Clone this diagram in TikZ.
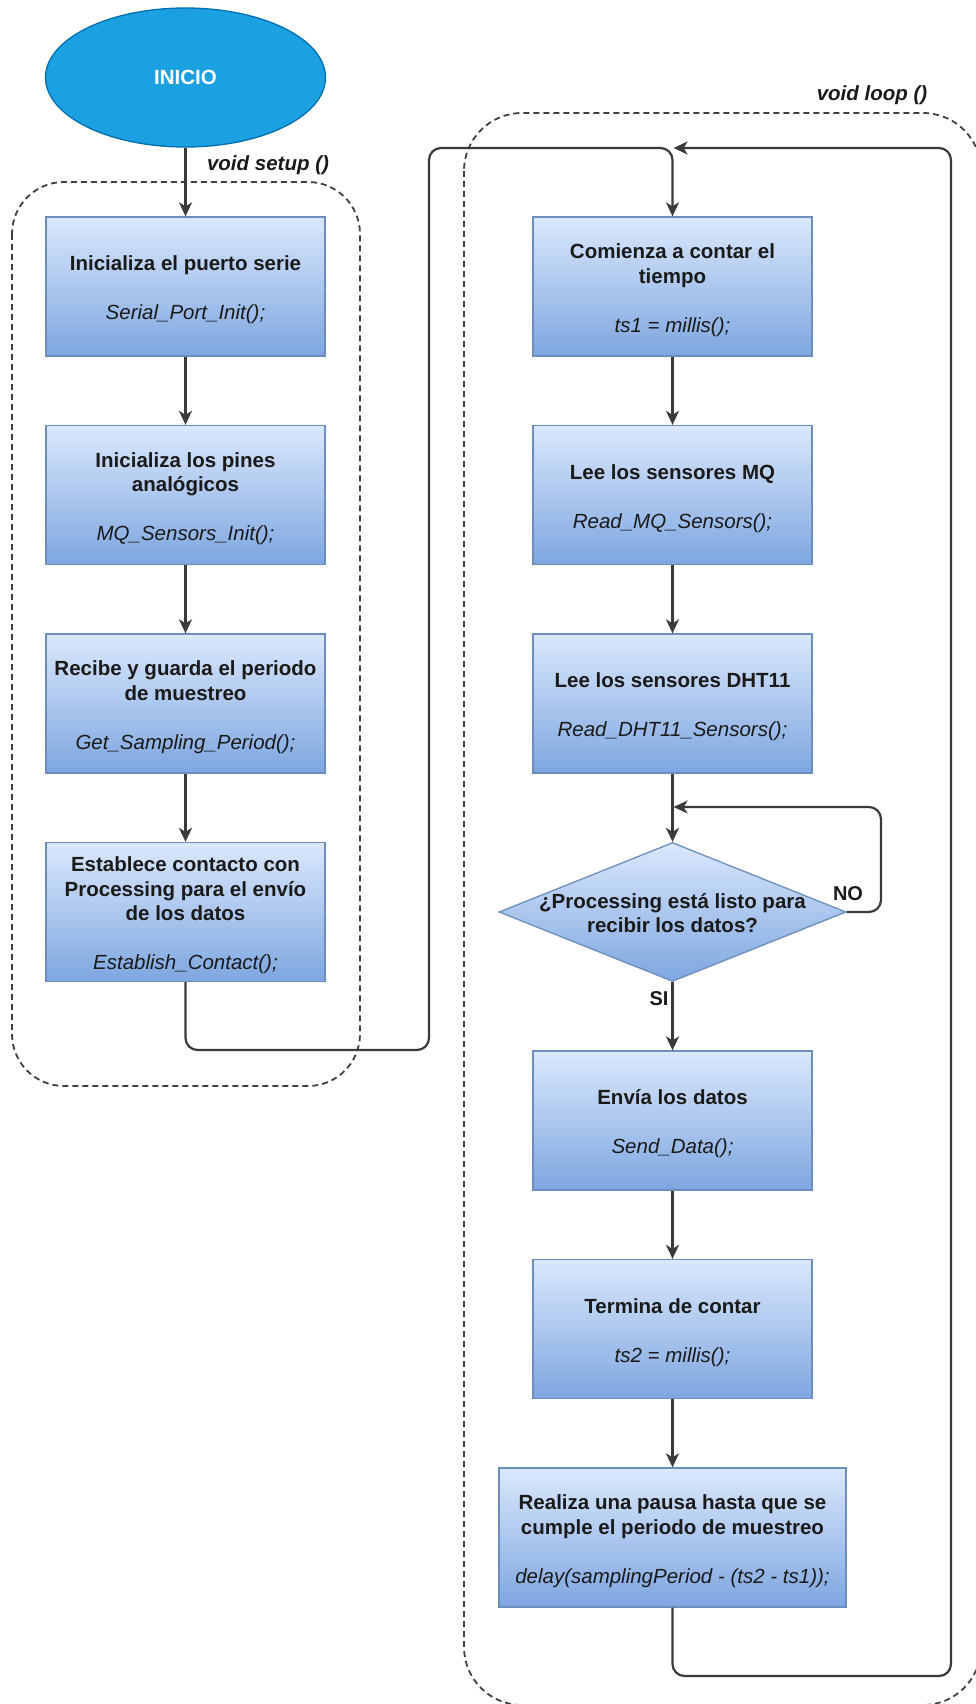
\documentclass[tikz,border=0pt]{standalone}
\usepackage{fontspec}
\setmainfont{Liberation Sans}
\usetikzlibrary{shapes.geometric, arrows.meta}

\definecolor{boxtop}{HTML}{DAE8FC}
\definecolor{boxbot}{HTML}{7EA6E0}
\definecolor{boxline}{HTML}{6C8EBF}
\definecolor{startfill}{HTML}{1BA1E2}
\definecolor{startline}{HTML}{006EAF}
\definecolor{wire}{HTML}{3A3A3A}
\definecolor{frame}{HTML}{404040}
\definecolor{ink}{HTML}{1A1A1A}

\tikzset{
  txt/.style={font=\fontsize{20.5}{24.5}\selectfont\bfseries, text=ink,
    align=center, inner sep=0pt},
  proc/.style={rectangle, draw=boxline, line width=1.3pt, top color=boxtop,
    bottom color=boxbot, minimum width=279pt, minimum height=139pt,
    inner sep=0pt},
  wideproc/.style={proc, minimum width=347pt},
  decision/.style={diamond, draw=boxline, line width=1.3pt, top color=boxtop,
    bottom color=boxbot, minimum width=347pt, minimum height=139pt, inner sep=0pt},
  terminal/.style={ellipse, draw=startline, line width=1.3pt, fill=startfill,
    minimum width=280pt, minimum height=139pt, inner sep=0pt,
    font=\fontsize{20.5}{24.5}\selectfont\bfseries, text=white},
  flow/.style={draw=wire, line width=2.2pt, rounded corners=12pt,
    -{Stealth[length=14pt,width=13pt,inset=4pt]}},
  region/.style={draw=frame, line width=1.8pt, dash pattern=on 6pt off 4pt},
  tag/.style={inner sep=0pt, text=ink, font=\fontsize{20.5}{24.5}\selectfont\bfseries\itshape},
  flag/.style={inner sep=0pt, text=ink, font=\fontsize{20}{24}\selectfont\bfseries},
}

\newcommand\code[1]{{\mdseries\itshape #1}}
% a box (#1) at #2 drawn in style #3, with its text #4 set slightly below centre
\newcommand\flowstep[4]{%
  \node[#3] (#1) at (#2) {};
  \node[txt] (#1-text) at ([yshift=-3.5pt]#1.center) {#4};}

\begin{document}
\begin{tikzpicture}[x=1pt, y=-1pt]
\useasboundingbox (0,0) rectangle (976,1704);
\clip (0,0) rectangle (976,1704);

% function frames
\draw[region, rounded corners=52pt] (12,182) rectangle (360,1086);
\draw[region, rounded corners=58pt] (464,113) rectangle (981,1705);

% start
\node[terminal] (start) at (185.5,77.5) {INICIO};

% setup()
\flowstep{s1}{185.5,286.5}{proc}{Inicializa el puerto serie\\[24.5pt]\code{Serial\_Port\_Init();}}
\flowstep{s2}{185.5,495}{proc}{Inicializa los pines\\anal\'ogicos\\[24.5pt]\code{MQ\_Sensors\_Init();}}
\flowstep{s3}{185.5,703.5}{proc}{Recibe y guarda el periodo\\de muestreo\\[24.5pt]\code{Get\_Sampling\_Period();}}
\flowstep{s4}{185.5,912}{proc}{Establece contacto con\\Processing para el env\'io\\de los datos\\[24.5pt]\code{Establish\_Contact();}}

% loop()
\flowstep{l1}{672.5,286.5}{proc}{Comienza a contar el\\tiempo\\[24.5pt]\code{ts1 = millis();}}
\flowstep{l2}{672.5,495}{proc}{Lee los sensores MQ\\[24.5pt]\code{Read\_MQ\_Sensors();}}
\flowstep{l3}{672.5,703.5}{proc}{Lee los sensores DHT11\\[24.5pt]\code{Read\_DHT11\_Sensors();}}
\node[decision] (dec) at (672.5,912) {};
\node[txt] (dectext) at (672.5,913) {¿Processing est\'a listo para\\recibir los datos?};
\flowstep{l5}{672.5,1120.5}{proc}{Env\'ia los datos\\[24.5pt]\code{Send\_Data();}}
\flowstep{l6}{672.5,1329}{proc}{Termina de contar\\[24.5pt]\code{ts2 = millis();}}
\flowstep{l7}{672.5,1537.5}{wideproc}{Realiza una pausa hasta que se\\cumple el periodo de muestreo\\[24.5pt]\code{delay(samplingPeriod - (ts2 - ts1));}}

% labels
\node[tag] (setuptag) at (268,165) {void setup ()};
\node[tag] (looptag) at (872,95) {void loop ()};
\node[flag] (notag) at (848,894) {NO};
\node[flag] (sitag) at (659,999) {SI};

% routing points
\coordinate (b1) at (429,1050);
\coordinate (t1) at (429,148);
\coordinate (rb) at (951,1676);
\coordinate (rt) at (951,148);
\coordinate (nr) at (881,912);
\coordinate (nt) at (881,807);

% connectors
\draw[flow] (start.south) -- (s1.north);
\draw[flow] (s1.south) -- (s2.north);
\draw[flow] (s2.south) -- (s3.north);
\draw[flow] (s3.south) -- (s4.north);
\draw[flow] (s4.south) -- (s4.south |- b1) -- (b1) -- (t1) -- (l1.north |- t1) -- (l1.north);
\draw[flow] (l1.south) -- (l2.north);
\draw[flow] (l2.south) -- (l3.north);
\draw[flow] (l3.south) -- (dec.north);
\draw[flow] (dec.east) -- (nr) -- (nt) -- ([xshift=1.1pt]l3.south |- nt);
\draw[flow] (dec.south) -- (l5.north);
\draw[flow] (l5.south) -- (l6.north);
\draw[flow] (l6.south) -- (l7.north);
\draw[flow] (l7.south) -- (l7.south |- rb) -- (rb) -- (rt) -- ([xshift=1.1pt]l1.north |- rt);
\end{tikzpicture}
\end{document}
